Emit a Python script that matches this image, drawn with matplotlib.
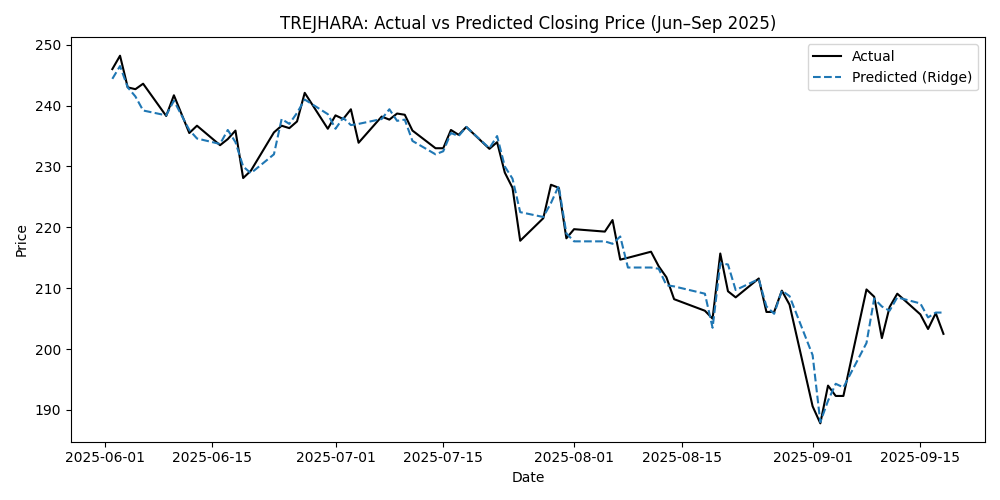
import matplotlib.pyplot as plt
import pandas as pd

dates = pd.to_datetime([
    "2025-06-02", "2025-06-03", "2025-06-04", "2025-06-05", "2025-06-06",
    "2025-06-09", "2025-06-10", "2025-06-12", "2025-06-13", "2025-06-16",
    "2025-06-17", "2025-06-18", "2025-06-19", "2025-06-20", "2025-06-23",
    "2025-06-24", "2025-06-25", "2025-06-26", "2025-06-27", "2025-06-30",
    "2025-07-01", "2025-07-02", "2025-07-03", "2025-07-04", "2025-07-07",
    "2025-07-08", "2025-07-09", "2025-07-10", "2025-07-11", "2025-07-14",
    "2025-07-15", "2025-07-16", "2025-07-17", "2025-07-18", "2025-07-21",
    "2025-07-22", "2025-07-23", "2025-07-24", "2025-07-25", "2025-07-28",
    "2025-07-29", "2025-07-30", "2025-07-31", "2025-08-01", "2025-08-05",
    "2025-08-06", "2025-08-07", "2025-08-08", "2025-08-11", "2025-08-12",
    "2025-08-13", "2025-08-14", "2025-08-18", "2025-08-19", "2025-08-20",
    "2025-08-21", "2025-08-22", "2025-08-25", "2025-08-26", "2025-08-27",
    "2025-08-28", "2025-08-29", "2025-09-01", "2025-09-02", "2025-09-03",
    "2025-09-04", "2025-09-05", "2025-09-08", "2025-09-09", "2025-09-10",
    "2025-09-11", "2025-09-12", "2025-09-15", "2025-09-16", "2025-09-17",
    "2025-09-18",
])

actual = [
    246.0, 248.2, 243.0, 242.7, 243.6, 238.3, 241.7, 235.5, 236.7, 233.5,
    234.5, 235.9, 228.1, 229.3, 235.6, 236.7, 236.3, 237.4, 242.1, 236.2,
    238.4, 237.8, 239.4, 233.9, 238.2, 237.7, 238.7, 238.5, 235.9, 233.0,
    233.0, 236.0, 235.2, 236.5, 232.9, 234.0, 229.0, 226.5, 217.8, 221.5,
    227.0, 226.5, 218.2, 219.7, 219.3, 221.2, 214.7, 215.0, 216.0, 213.6,
    211.8, 208.2, 206.3, 205.0, 215.7, 209.5, 208.5, 211.6, 206.1, 206.1,
    209.6, 207.3, 190.6, 187.8, 194.0, 192.3, 192.3, 209.8, 208.6, 201.8,
    206.9, 209.1, 205.7, 203.3, 205.9, 202.5,
]

predicted = [
    244.4, 246.5, 243.0, 241.5, 239.2, 238.4, 240.8, 236.0, 234.6, 233.7,
    236.0, 234.0, 230.0, 228.9, 232.0, 237.8, 237.0, 238.8, 241.0, 238.6,
    236.2, 238.0, 236.8, 237.0, 237.8, 239.4, 237.5, 237.7, 234.2, 232.0,
    232.5, 235.5, 235.0, 236.5, 233.0, 235.0, 230.0, 228.0, 222.5, 221.7,
    224.0, 226.8, 219.0, 217.7, 217.7, 217.3, 218.5, 213.4, 213.4, 213.2,
    210.5, 210.3, 209.1, 203.5, 214.1, 213.9, 209.7, 211.5, 207.0, 205.8,
    209.6, 208.7, 199.0, 188.0, 191.5, 194.3, 193.7, 201.0, 208.3, 207.0,
    206.3, 208.5, 207.5, 205.2, 206.0, 206.0,
]

fig, ax = plt.subplots(figsize=(10, 5))
ax.plot(dates, actual, label="Actual", color="black")
ax.plot(dates, predicted, label="Predicted (Ridge)", linestyle="--", color="tab:blue")
ax.set_title("TREJHARA: Actual vs Predicted Closing Price (Jun–Sep 2025)")
ax.set_xlabel("Date")
ax.set_ylabel("Price")
ax.legend()
plt.tight_layout()
plt.savefig("out.png", dpi=100)
